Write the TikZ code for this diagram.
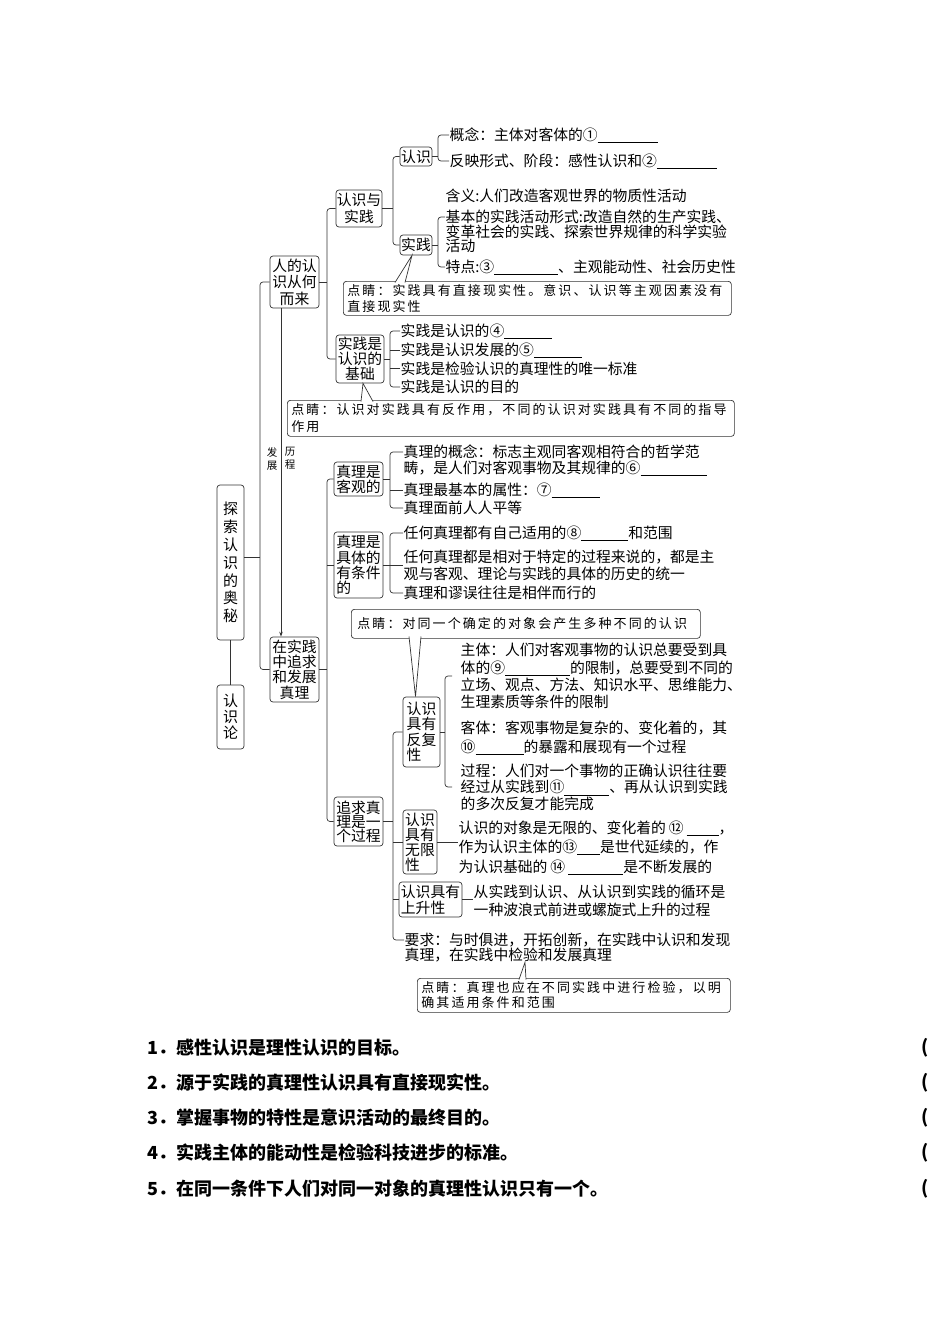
\documentclass[tikz,border=0pt]{standalone}
\usepackage{fontspec}
\newfontfamily\cjk{Noto Sans CJK SC}
\newfontfamily\cjkkai{Noto Sans CJK SC}[LetterSpace=16]
\usetikzlibrary{arrows.meta}
\newcommand\blank[1]{\rule[-2.5pt]{#1pt}{0.6pt}}
\tikzset{
  topic/.style={draw=black!80, line width=0.7pt, rounded corners=3pt, inner sep=0pt,
    align=center, font=\cjk\fontsize{14.8}{#1}\selectfont},
  topic/.default=15.5,
  item/.style={anchor=west, inner xsep=0.5pt, inner ysep=0pt, align=left,
    font=\cjk\fontsize{14.8}{#1}\selectfont},
  item/.default=17,
  tipbox/.style={draw=black!80, line width=0.7pt, rounded corners=3pt, anchor=north west,
    inner xsep=4pt, inner ysep=0pt, align=left, font=\cjkkai\fontsize{13}{#1}\selectfont},
  tipbox/.default=15.5,
  link/.style={draw=black!80, line width=0.7pt, rounded corners=3pt},
  lab/.style={inner sep=0pt, align=center, font=\cjk\fontsize{10.5}{13}\selectfont},
  ques/.style={anchor=west, inner sep=0pt, font=\cjk\bfseries\fontsize{18}{20}\selectfont}
}
\begin{document}
\begin{tikzpicture}[x=1pt, y=-1pt]
\useasboundingbox (0,0) rectangle (950,1344);

% topics
\node[topic=17.8, font=\cjk\fontsize{15}{17.8}\selectfont, minimum width=27pt, minimum height=155pt] (main) at (230.5,562.5) {探\\索\\认\\识\\的\\奥\\秘};
\node[topic=16, font=\cjk\fontsize{15}{16}\selectfont, minimum width=27pt, minimum height=64pt] (rsl) at (230.5,717) {认\\识\\论};
\node[topic=16.5, minimum width=49pt, minimum height=52pt] (rd) at (294.5,282) {人的认\\识从何\\而来};
\node[topic=15.3, minimum width=49pt, minimum height=65pt] (zsj) at (294.5,669.5) {在实践\\中追求\\和发展\\真理};
\node[topic=17, minimum width=46pt, minimum height=37pt] (rsysj) at (359,208.5) {认识与\\实践};
\node[topic, minimum width=32pt, minimum height=19pt] (rs) at (416,156.5) {认识};
\node[topic, minimum width=32pt, minimum height=20pt] (sj) at (416,245) {实践};
\node[topic=15, minimum width=48pt, minimum height=48pt] (jc) at (360,359) {实践是\\认识的\\基础};
\node[topic=15, minimum width=49pt, minimum height=34pt] (gk) at (358.5,479) {真理是\\客观的};
\node[topic=15.3, align=left, minimum width=49pt, minimum height=66pt] (jt) at (358.5,565) {真理是\\具体的\\有条件\\的};
\node[topic=14, minimum width=49pt, minimum height=49pt] (zq) at (358.5,821.5) {追求真\\理是一\\个过程};
\node[topic=15.5, align=left, minimum width=37pt, minimum height=70pt] (fz) at (421.5,732) {认识\\具有\\反复\\性};
\node[topic=15, align=left, minimum width=34pt, minimum height=64pt] (wx) at (420,842) {认识\\具有\\无限\\性};
\node[topic=16, align=left, minimum width=63pt, minimum height=35pt] (ss) at (430.5,899.5) {认识具有\\上升性};

% items
\node[item] (k1) at (449,135) {概念：主体对客体的①\blank{60}};
\node[item] (k2) at (449,161) {反映形式、阶段：感性认识和②\blank{60}};
\node[item] (s0) at (445,196) {含义:人们改造客观世界的物质性活动};
\node[item=14.5] (s1) at (445,231.5) {基本的实践活动形式:改造自然的生产实践、\\变革社会的实践、探索世界规律的科学实验\\活动};
\node[item] (s2) at (445,267) {特点:③\blank{64}、主观能动性、社会历史性};
\node[item] (j1) at (400,331) {实践是认识的④\blank{48}};
\node[item] (j2) at (400,350) {实践是认识发展的⑤\blank{48}};
\node[item] (j3) at (400,368.5) {实践是检验认识的真理性的唯一标准};
\node[item] (j4) at (400,387) {实践是认识的目的};
\node[item=16] (g1) at (403,460) {真理的概念：标志主观同客观相符合的哲学范\\畴，是人们对客观事物及其规律的⑥\blank{66}};
\node[item] (g2) at (403,490) {真理最基本的属性：⑦\blank{48}};
\node[item] (g3) at (403,508) {真理面前人人平等};
\node[item] (t1) at (403,533) {任何真理都有自己适用的⑧\blank{47}和范围};
\node[item=17] (t2) at (403,565) {任何真理都是相对于特定的过程来说的，都是主\\观与客观、理论与实践的具体的历史的统一};
\node[item] (t3) at (403,593) {真理和谬误往往是相伴而行的};
\node[item=17.3] (f1) at (460,676) {主体：人们对客观事物的认识总要受到具\\体的⑨\blank{65}的限制，总要受到不同的\\立场、观点、方法、知识水平、思维能力、\\生理素质等条件的限制};
\node[item=19] (f2) at (460,737.5) {客体：客观事物是复杂的、变化着的，其\\⑩\blank{48}的暴露和展现有一个过程};
\node[item=16.5] (f3) at (460,787) {过程：人们对一个事物的正确认识往往要\\经过从实践到⑪\blank{45}、再从认识到实践\\的多次反复才能完成};
\node[item=19.5] (w1) at (458,847.5) {认识的对象是无限的、变化着的\kern3pt⑫\kern3pt\blank{32}，\\作为认识主体的⑬\blank{23}是世代延续的，作\\为认识基础的\kern3pt⑭\kern3pt\blank{55}是不断发展的};
\node[item=18] (u1) at (473,901) {从实践到认识、从认识到实践的循环是\\一种波浪式前进或螺旋式上升的过程};
\node[item=15] (yq) at (404,947.5) {要求：与时俱进，开拓创新，在实践中认识和发现\\真理，在实践中检验和发展真理};

% labels on the arrow
\node[lab] (fzh) at (272,458.5) {发\\展};
\node[lab] (lch) at (290,458.5) {历\\程};

% tip boxes
\node[tipbox, text width=380pt, minimum height=34pt] (tip1) at (343,281) {点睛：实践具有直接现实性。意识、认识等主观因素没有\\直接现实性};
\node[tipbox=17, text width=439pt, minimum height=36pt] (tip2) at (287,400) {点睛：认识对实践具有反作用，不同的认识对实践具有不同的指导\\作用};
\node[tipbox, inner xsep=6pt, text width=337pt, minimum height=29pt] (tip3) at (351,609) {点睛：对同一个确定的对象会产生多种不同的认识};
\node[tipbox=15, text width=305pt, minimum height=34pt] (tip4) at (417,978) {点睛：真理也应在不同实践中进行检验，以明\\确其适用条件和范围};

% pointers
\draw[link, fill=white, rounded corners=0pt] (395,282.5) -- ([xshift=-4pt]sj.south) -- (405,282.5);
\draw[link, fill=white, rounded corners=0pt] (361,401.5) -- ([xshift=3pt]jc.south) -- (373,401.5);
\draw[link, fill=white, rounded corners=0pt] (409,636.5) -- ([xshift=-6pt]fz.north) -- (421,636.5);
\draw[link, fill=white, rounded corners=0pt] (519,979.5) -- (yq.south -| 525,0) -- (526,979.5);

% main branches
\draw[link] (rd.west) -- (260,282) -- (260,669.5) -- (zsj.west);
\draw[link] (main.east |- 0,557) -- (260,557);
\draw[link] (main.south) -- (rsl.north);
\draw[link, -{Stealth[length=5pt, width=3.5pt]}] (rd.south -| 281,0) -- (zsj.north -| 281,0);

% 人的认识从何而来
\draw[link] (rsysj.west) -- (327,208.5) -- (327,359) -- (jc.west);
\draw[link] (rd.east) -- (rd.east -| 327,0);
\draw[link] (rs.west) -- (393,156.5) -- (393,245) -- (sj.west);
\draw[link] (rsysj.east) -- (rsysj.east -| 393,0);
\draw[link] (k1.west) -- (438,135) -- (438,161) -- (k2.west);
\draw[link] (rs.east) -- (rs.east -| 438,0);
\draw[link] (s1.west |- 0,217) -- (438,217) -- (438,267) -- (s2.west);
\draw[link] (sj.east) -- (sj.east -| 438,0);
\draw[link] (j1.west) -- (390,331) -- (390,387) -- (j4.west);
\draw[link] (jc.east) -- (jc.east -| 390,0);
\draw[link] (j2.west -| 390,0) -- (j2.west);
\draw[link] (j3.west -| 390,0) -- (j3.west);

% 在实践中追求和发展真理
\draw[link] (gk.west) -- (327,479) -- (327,821.5) -- (zq.west);
\draw[link] (zsj.east) -- (zsj.east -| 327,0);
\draw[link] (jt.west -| 327,0) -- (jt.west);
\draw[link] (g1.west |- 0,452) -- (390,452) -- (390,508) -- (g3.west);
\draw[link] (gk.east) -- (gk.east -| 390,0);
\draw[link] (g2.west -| 390,0) -- (g2.west);
\draw[link] (t1.west) -- (390,533) -- (390,593) -- (t3.west);
\draw[link] (jt.east) -- (t2.west);
\draw[link] (fz.west) -- (393,732) -- (393,940) -- (yq.west |- 0,940);
\draw[link] (zq.east) -- (zq.east -| 393,0);
\draw[link] (wx.west -| 393,0) -- (wx.west);
\draw[link] (ss.west -| 393,0) -- (ss.west);
\draw[link, shorten <=8pt, shorten >=8pt] (f1.west) -- (445,676) -- (445,787) -- (f3.west);
\draw[link] (fz.east) -- (fz.east -| 445,0);
\draw[link] (wx.east) -- (wx.east -| w1.west);
\draw[link] (ss.east) -- (ss.east -| u1.west);

% questions
\node[ques] (q1) at (147,1048) {1．感性认识是理性认识的目标。};
\node[ques] (q2) at (147,1083) {2．源于实践的真理性认识具有直接现实性。};
\node[ques] (q3) at (147,1118) {3．掌握事物的特性是意识活动的最终目的。};
\node[ques] (q4) at (147,1153) {4．实践主体的能动性是检验科技进步的标准。};
\node[ques] (q5) at (147,1189) {5．在同一条件下人们对同一对象的真理性认识只有一个。};
\node[ques] (b1) at (921,1048) {(};
\node[ques] (b2) at (921,1083) {(};
\node[ques] (b3) at (921,1118) {(};
\node[ques] (b4) at (921,1153) {(};
\node[ques] (b5) at (921,1189) {(};
\end{tikzpicture}
\end{document}
